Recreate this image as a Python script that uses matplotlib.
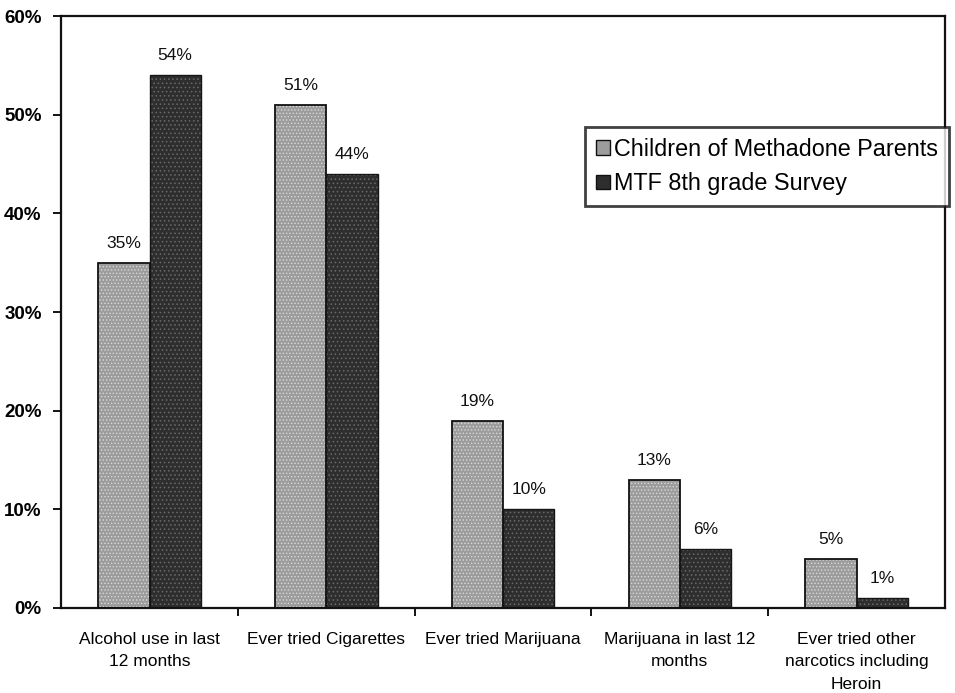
import matplotlib.pyplot as plt
import numpy as np

# Substance use: children of methadone-maintained parents vs MTF 8th grade survey
categories = ["Alcohol use in last\n12 months", "Ever tried Cigarettes", "Ever tried Marijuana",
              "Marijuana in last 12\nmonths", "Ever tried other\nnarcotics including\nHeroin"]
methadone_kids = [35, 51, 19, 13, 5]
mtf_survey = [54, 44, 10, 6, 1]
series_names = ["Children of Methadone Parents", "MTF 8th grade Survey"]
yticks = [0, 10, 20, 30, 40, 50, 60]

plt.rcParams['font.family'] = ['Liberation Sans', 'DejaVu Sans']
plt.rcParams['hatch.linewidth'] = 0.6

fig = plt.figure(figsize=(9.55, 6.93), dpi=100)
ax = fig.add_axes([0.064, 0.1227, 0.9255, 0.854])

x = np.arange(len(categories))
w = 0.29

# stippled fills: draw hatched body first, then a plain outline on top
ax.bar(x - w / 2, methadone_kids, w, color='#9c9c9c', edgecolor='#d8d8d8',
       hatch='.....', linewidth=0, zorder=2)
ax.bar(x - w / 2, methadone_kids, w, fill=False, edgecolor='#111111', linewidth=1.3, zorder=3)
ax.bar(x + w / 2, mtf_survey, w, color='#2e2e2e', edgecolor='#6a6a6a',
       hatch='....', linewidth=0, zorder=2)
ax.bar(x + w / 2, mtf_survey, w, fill=False, edgecolor='#151515', linewidth=1.0, zorder=3)

for xi, v in zip(x - w / 2, methadone_kids):
    ax.text(xi, v + 1.2, f"{v}%", ha='center', va='bottom', fontsize=12.5, color='#111111')
for xi, v in zip(x + w / 2, mtf_survey):
    ax.text(xi, v + 1.2, f"{v}%", ha='center', va='bottom', fontsize=12.5, color='#111111')

ax.set_xlim(-0.5, len(categories) - 0.5)
ax.set_ylim(0, 60)
ax.set_yticks(yticks)
ax.set_yticklabels([f"{t}%" for t in yticks], fontsize=13.5, fontweight='bold')
ax.set_xticks(x)
ax.set_xticklabels(categories, fontsize=12.5, linespacing=1.65)
ax.set_xticks(np.arange(0.5, len(categories) - 0.5, 1), minor=True)
ax.tick_params(axis='x', which='major', length=0, pad=17)
ax.tick_params(axis='x', which='minor', length=6, width=1.3, direction='out')
ax.tick_params(axis='y', length=6, width=1.3, direction='out', pad=8)
for s in ax.spines.values():
    s.set_linewidth(1.6)
    s.set_color('#111111')

# legend swatches
h1 = plt.Rectangle((0, 0), 1, 1, facecolor='#9c9c9c', edgecolor='#111111', linewidth=1)
h2 = plt.Rectangle((0, 0), 1, 1, facecolor='#2e2e2e', edgecolor='#111111', linewidth=1)
leg = ax.legend([h1, h2], series_names, loc='upper left', bbox_to_anchor=(0.593, 0.8125),
                fontsize=16.8, frameon=True, fancybox=False, handlelength=0.6,
                handleheight=0.6, handletextpad=0.2, borderpad=0.45, labelspacing=0.5,
                borderaxespad=0)
leg.get_frame().set_edgecolor('#111111')
leg.get_frame().set_linewidth(2.0)

fig.savefig("out.png", dpi=100)
